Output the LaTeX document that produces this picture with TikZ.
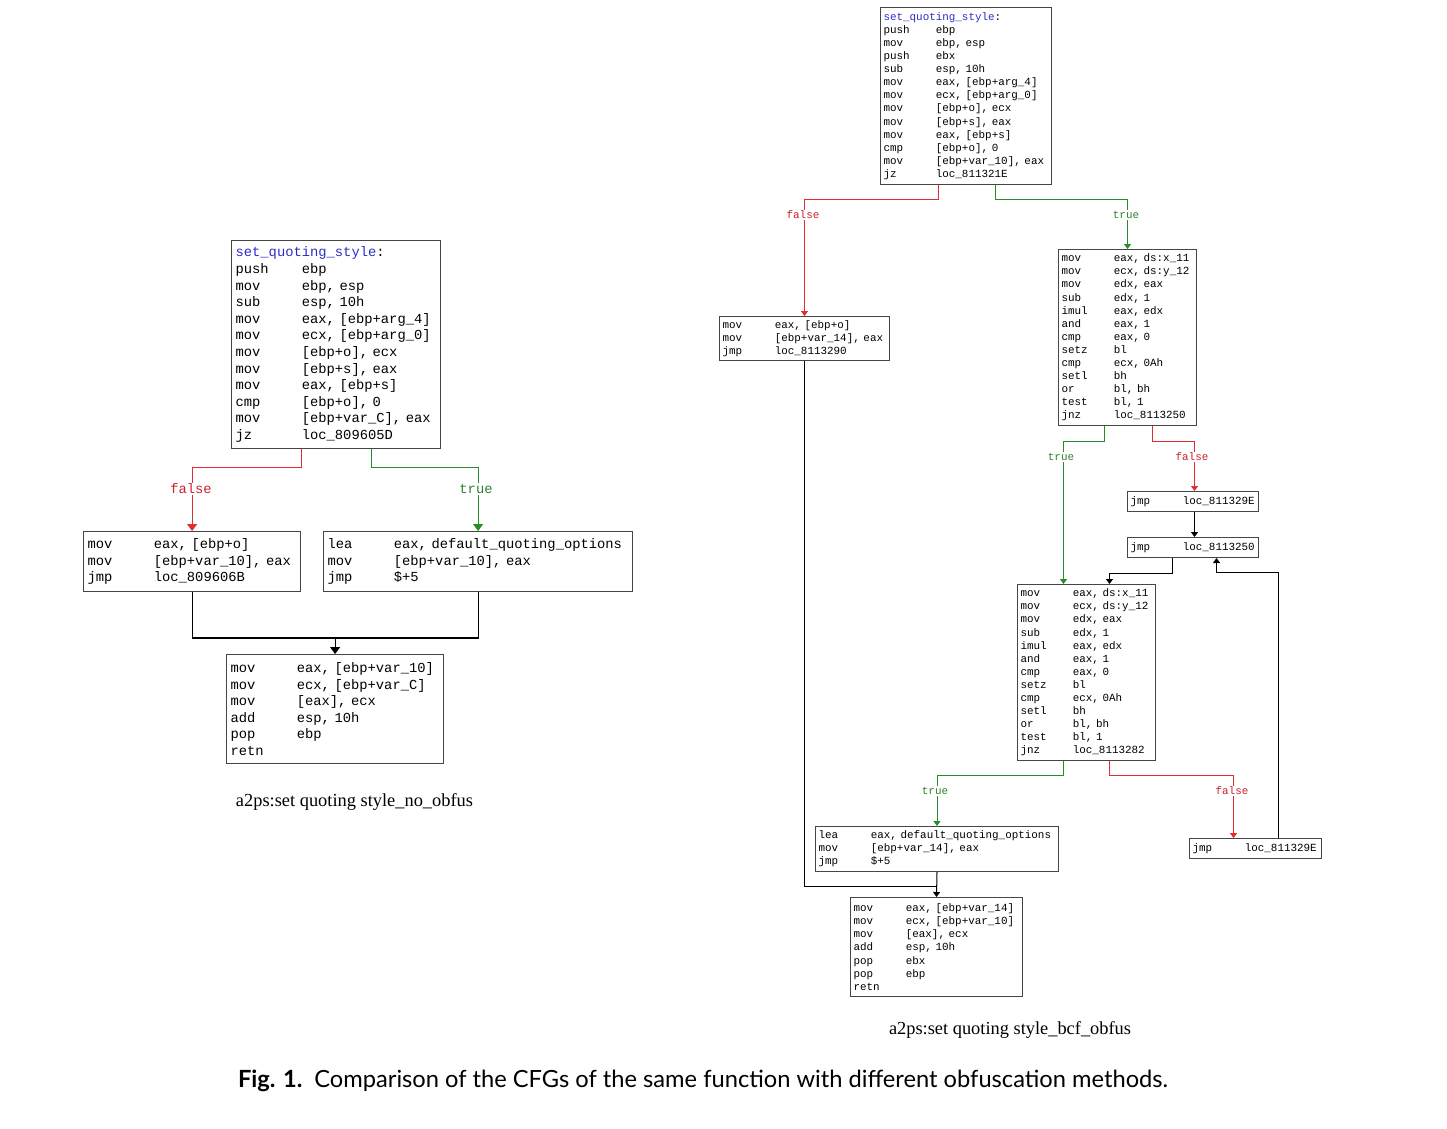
\documentclass[tikz,border=0pt]{standalone}
\usepackage{fontspec}
\usepackage{graphicx}
\setmainfont{Liberation Serif}
\setmonofont{Liberation Mono}
\newfontfamily\capfont{Lato}
\usetikzlibrary{arrows.meta,calc}
\definecolor{boxgray}{RGB}{70,70,70}
\definecolor{edgered}{RGB}{225,45,45}
\definecolor{edgegreen}{RGB}{40,140,40}
\definecolor{lblred}{RGB}{200,35,45}
\definecolor{lblgreen}{RGB}{45,130,45}
\definecolor{titleblue}{RGB}{45,45,200}
\newcommand{\ins}[2]{\mbox{\makebox[4.8em][l]{#1}#2}}
\newcommand{\fname}{\mbox{\textcolor{titleblue}{set\_quoting\_style}:}}
\begin{document}
\begin{tikzpicture}[x=1pt,y=-1pt,
  cfgL/.style={draw=boxgray,line width=1.2pt,anchor=north west,align=left,
    inner xsep=4pt,inner ysep=0pt,font=\ttfamily\fontsize{13.8}{16.6}\selectfont},
  cfgR/.style={draw=boxgray,line width=1pt,anchor=north west,align=left,
    inner xsep=3pt,inner ysep=0pt,font=\ttfamily\fontsize{10.9}{13.1}\selectfont},
  edgeL/.style={line width=1.1pt},
  edgeR/.style={line width=1pt},
  tipL/.style={-{Triangle[width=10pt,length=7pt]}},
  tipR/.style={-{Triangle[width=7pt,length=5pt]}},
  lblL/.style={fill=white,inner sep=1pt,font=\ttfamily\fontsize{13.8}{16}\selectfont},
  lblR/.style={fill=white,inner sep=1pt,font=\ttfamily\fontsize{10.9}{13}\selectfont},
]
\path[use as bounding box,fill=white] (0,0) rectangle (1447,1128);

% ---------------- left graph ----------------
\node[cfgL,text width=201pt,minimum height=208pt] (B1) at (231,240) {\fname\\
\ins{push}{ebp}\\
\ins{mov}{ebp, esp}\\
\ins{sub}{esp, 10h}\\
\ins{mov}{eax, [ebp+arg\_4]}\\
\ins{mov}{ecx, [ebp+arg\_0]}\\
\ins{mov}{[ebp+o], ecx}\\
\ins{mov}{[ebp+s], eax}\\
\ins{mov}{eax, [ebp+s]}\\
\ins{cmp}{[ebp+o], 0}\\
\ins{mov}{[ebp+var\_C], eax}\\
\ins{jz}{loc\_809605D}};

\node[cfgL,text width=209pt,minimum height=60pt] (B2) at (83,531) {\ins{mov}{eax, [ebp+o]}\\
\ins{mov}{[ebp+var\_10], eax}\\
\ins{jmp}{loc\_809606B}};

\node[cfgL,text width=301pt,minimum height=60pt] (B3) at (323,531) {\ins{lea}{eax, default\_quoting\_options}\\
\ins{mov}{[ebp+var\_10], eax}\\
\ins{jmp}{\$+5}};

\node[cfgL,text width=209pt,minimum height=109pt] (B4) at (226,654) {\ins{mov}{eax, [ebp+var\_10]}\\
\ins{mov}{ecx, [ebp+var\_C]}\\
\ins{mov}{[eax], ecx}\\
\ins{add}{esp, 10h}\\
\ins{pop}{ebp}\\
\ins{retn}{}};

\draw[edgeL,tipL,edgered] ([xshift=-34.5pt]B1.south) -- ++(0,18) -| (B2.north);
\draw[edgeL,tipL,edgegreen] ([xshift=35.5pt]B1.south) -- ++(0,18) -| (B3.north);
\draw[edgeL] (B3.south) |- ([yshift=16pt]B4.north);
\draw[edgeL,tipL] (B2.south) |- ([yshift=16pt]B4.north) -- (B4.north);
\node[lblL,text=lblred] (lf1) at (191,489) {false};
\node[lblL,text=lblgreen] (lt1) at (476,489) {true};

\node[anchor=base] (capL) at (354.5,806.5) {\resizebox{237pt}{!}{a2ps:set quoting style\_no\_obfus}};

% ---------------- right graph ----------------
\node[cfgR,text width=165pt,minimum height=177pt] (R1) at (880,7) {\fname\\
\ins{push}{ebp}\\
\ins{mov}{ebp, esp}\\
\ins{push}{ebx}\\
\ins{sub}{esp, 10h}\\
\ins{mov}{eax, [ebp+arg\_4]}\\
\ins{mov}{ecx, [ebp+arg\_0]}\\
\ins{mov}{[ebp+o], ecx}\\
\ins{mov}{[ebp+s], eax}\\
\ins{mov}{eax, [ebp+s]}\\
\ins{cmp}{[ebp+o], 0}\\
\ins{mov}{[ebp+var\_10], eax}\\
\ins{jz}{loc\_811321E}};

\node[cfgR,text width=164pt,minimum height=44pt] (R2) at (719,316) {\ins{mov}{eax, [ebp+o]}\\
\ins{mov}{[ebp+var\_14], eax}\\
\ins{jmp}{loc\_8113290}};

\node[cfgR,text width=132pt,minimum height=176pt] (R3) at (1058,249) {\ins{mov}{eax, ds:x\_11}\\
\ins{mov}{ecx, ds:y\_12}\\
\ins{mov}{edx, eax}\\
\ins{sub}{edx, 1}\\
\ins{imul}{eax, edx}\\
\ins{and}{eax, 1}\\
\ins{cmp}{eax, 0}\\
\ins{setz}{bl}\\
\ins{cmp}{ecx, 0Ah}\\
\ins{setl}{bh}\\
\ins{or}{bl, bh}\\
\ins{test}{bl, 1}\\
\ins{jnz}{loc\_8113250}};

\node[cfgR,text width=125pt,minimum height=20pt] (R4) at (1127,491) {\ins{jmp}{loc\_811329E}};
\node[cfgR,text width=125pt,minimum height=20pt] (R5) at (1127,537) {\ins{jmp}{loc\_8113250}};

\node[cfgR,text width=132pt,minimum height=176pt] (R6) at (1017,584) {\ins{mov}{eax, ds:x\_11}\\
\ins{mov}{ecx, ds:y\_12}\\
\ins{mov}{edx, eax}\\
\ins{sub}{edx, 1}\\
\ins{imul}{eax, edx}\\
\ins{and}{eax, 1}\\
\ins{cmp}{eax, 0}\\
\ins{setz}{bl}\\
\ins{cmp}{ecx, 0Ah}\\
\ins{setl}{bh}\\
\ins{or}{bl, bh}\\
\ins{test}{bl, 1}\\
\ins{jnz}{loc\_8113282}};

\node[cfgR,text width=237pt,minimum height=45pt] (R7) at (815,826) {\ins{lea}{eax, default\_quoting\_options}\\
\ins{mov}{[ebp+var\_14], eax}\\
\ins{jmp}{\$+5}};

\node[cfgR,text width=126pt,minimum height=20pt] (R8) at (1189,838) {\ins{jmp}{loc\_811329E}};

\node[cfgR,text width=166pt,minimum height=99pt] (R9) at (850,897) {\ins{mov}{eax, [ebp+var\_14]}\\
\ins{mov}{ecx, [ebp+var\_10]}\\
\ins{mov}{[eax], ecx}\\
\ins{add}{esp, 10h}\\
\ins{pop}{ebx}\\
\ins{pop}{ebp}\\
\ins{retn}{}};

\draw[edgeR,tipR,edgered] ([xshift=-27.5pt]R1.south) -- ++(0,14) -| (R2.north);
\draw[edgeR,tipR,edgegreen] ([xshift=29.5pt]R1.south) -- ++(0,14) -| (R3.north);
\draw[edgeR,tipR,edgegreen] ([xshift=-23pt]R3.south) -- ++(0,15) -| ([xshift=-23pt]R6.north);
\draw[edgeR,tipR,edgered] ([xshift=25pt]R3.south) -- ++(0,15) -| ([xshift=1.5pt]R4.north);
\draw[edgeR,tipR] ([xshift=1.5pt]R4.south) -- ([xshift=1.5pt]R5.north);
\draw[edgeR,tipR] ([xshift=-20.5pt]R5.south) -- ++(0,15) -| ([xshift=23pt]R6.north);
\draw[edgeR,tipR,edgegreen] ([xshift=-23pt]R6.south) -- ++(0,14) -| (R7.north);
\draw[edgeR,tipR,edgered] ([xshift=23pt]R6.south) -- ++(0,14) -| ([xshift=-22pt]R8.north);
\draw[edgeR,tipR] ([xshift=23pt]R8.north) -- ++(0,-266) -| ([xshift=23.5pt]R5.south);
\draw[edgeR] (R2.south) |- ([yshift=11pt]R9.north);
\draw[edgeR,tipR] (R7.south) -- (R9.north);

\node[lblR,text=lblred] (lf2) at (803,215) {false};
\node[lblR,text=lblgreen] (lt2) at (1126,215) {true};
\node[lblR,text=lblgreen] (lt3) at (1061,457) {true};
\node[lblR,text=lblred] (lf3) at (1192,457) {false};
\node[lblR,text=lblgreen] (lt4) at (935,791) {true};
\node[lblR,text=lblred] (lf4) at (1232,791) {false};

\node[anchor=base] (capR) at (1010,1034) {\resizebox{242pt}{!}{a2ps:set quoting style\_bcf\_obfus}};

% ---------------- figure caption ----------------
\node[anchor=base] (fig) at (703,1087) {\resizebox{930pt}{!}{\capfont\fontsize{23}{28}\selectfont\textbf{Fig. 1.}\enspace Comparison of the CFGs of the same function with different obfuscation methods.}};
\end{tikzpicture}
\end{document}
